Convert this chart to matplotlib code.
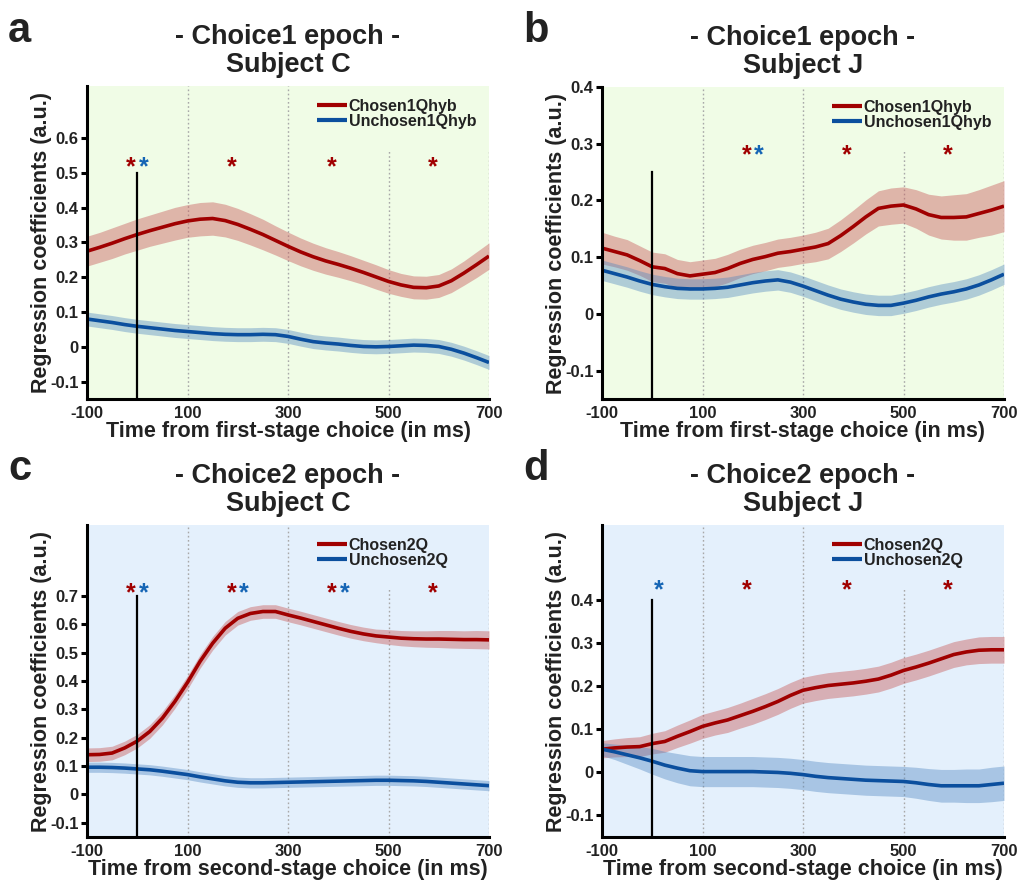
import numpy as np
import matplotlib
matplotlib.use("Agg")
import matplotlib.pyplot as plt

plt.rcParams["font.family"] = ["Liberation Sans", "DejaVu Sans"]
plt.rcParams["font.weight"] = "bold"

# time axis (ms)
t = np.arange(-100, 701, 25)

# ---- Choice1 epoch, subject C ----
a_chosen = [0.275, 0.286, 0.298, 0.311, 0.323, 0.334, 0.344, 0.354, 0.362, 0.367, 0.369,
            0.363, 0.352, 0.338, 0.323, 0.306, 0.289, 0.273, 0.259, 0.247, 0.237, 0.226,
            0.214, 0.201, 0.188, 0.178, 0.171, 0.170, 0.175, 0.190, 0.212, 0.236, 0.261]
a_chosen_se = [0.043, 0.043, 0.044, 0.044, 0.045, 0.045, 0.046, 0.047, 0.047, 0.048, 0.048,
               0.047, 0.046, 0.045, 0.044, 0.042, 0.041, 0.040, 0.039, 0.038, 0.037, 0.036,
               0.035, 0.035, 0.034, 0.033, 0.033, 0.033, 0.033, 0.034, 0.035, 0.037, 0.038]
a_unchosen = [0.080, 0.075, 0.070, 0.064, 0.059, 0.055, 0.051, 0.047, 0.044, 0.041, 0.038,
              0.036, 0.035, 0.035, 0.036, 0.035, 0.030, 0.022, 0.015, 0.011, 0.008, 0.004,
              0.001, 0.000, 0.001, 0.003, 0.005, 0.004, 0.001, -0.007, -0.018, -0.031, -0.045]
a_unchosen_se = [0.020] * 33

# ---- Choice1 epoch, subject J ----
b_chosen = [0.116, 0.110, 0.104, 0.094, 0.083, 0.080, 0.071, 0.067, 0.070, 0.073, 0.080,
            0.089, 0.096, 0.101, 0.107, 0.110, 0.114, 0.118, 0.124, 0.138, 0.154, 0.171,
            0.186, 0.190, 0.192, 0.185, 0.175, 0.170, 0.170, 0.171, 0.177, 0.183, 0.190]
b_chosen_se = [0.028, 0.027, 0.027, 0.026, 0.026, 0.026, 0.025, 0.025, 0.025, 0.025, 0.025,
               0.025, 0.025, 0.025, 0.025, 0.025, 0.025, 0.026, 0.027, 0.028, 0.029, 0.030,
               0.031, 0.032, 0.032, 0.034, 0.036, 0.038, 0.040, 0.041, 0.042, 0.044, 0.045]
b_unchosen = [0.077, 0.071, 0.065, 0.058, 0.052, 0.048, 0.045, 0.044, 0.044, 0.045, 0.047,
              0.051, 0.055, 0.058, 0.060, 0.056, 0.049, 0.041, 0.033, 0.026, 0.021, 0.017,
              0.015, 0.015, 0.019, 0.024, 0.030, 0.035, 0.039, 0.044, 0.051, 0.060, 0.070]
b_unchosen_se = [0.018] * 33

# ---- Choice2 epoch, subject C ----
c_chosen = [0.140, 0.141, 0.146, 0.164, 0.188, 0.222, 0.269, 0.328, 0.395, 0.469, 0.533,
            0.586, 0.621, 0.638, 0.645, 0.645, 0.633, 0.622, 0.610, 0.598, 0.586, 0.575,
            0.566, 0.559, 0.555, 0.551, 0.549, 0.548, 0.548, 0.547, 0.546, 0.546, 0.545]
c_chosen_se = [0.024] * 24 + [0.026, 0.027, 0.028, 0.029, 0.030, 0.031, 0.031, 0.032, 0.032]
c_unchosen = [0.096, 0.096, 0.095, 0.093, 0.090, 0.087, 0.082, 0.076, 0.070, 0.062, 0.055,
              0.048, 0.043, 0.041, 0.041, 0.042, 0.043, 0.044, 0.045, 0.046, 0.047, 0.048,
              0.049, 0.050, 0.050, 0.049, 0.048, 0.046, 0.043, 0.040, 0.037, 0.034, 0.031]
c_unchosen_se = [0.018] * 33

# ---- Choice2 epoch, subject J ----
d_chosen = [0.054, 0.057, 0.059, 0.060, 0.067, 0.072, 0.084, 0.095, 0.107, 0.115, 0.122,
            0.132, 0.142, 0.153, 0.165, 0.179, 0.191, 0.197, 0.202, 0.205, 0.208, 0.212,
            0.217, 0.226, 0.237, 0.245, 0.254, 0.264, 0.274, 0.280, 0.284, 0.285, 0.285]
d_chosen_se = [0.020, 0.021, 0.022, 0.023, 0.024, 0.025, 0.026, 0.027, 0.028, 0.028, 0.029,
               0.029, 0.030, 0.030, 0.030, 0.030, 0.030, 0.030, 0.030, 0.030, 0.030, 0.030,
               0.030, 0.030, 0.030, 0.030, 0.030, 0.030, 0.030, 0.030, 0.031, 0.031, 0.031]
d_unchosen = [0.054, 0.048, 0.041, 0.034, 0.026, 0.017, 0.010, 0.004, 0.002, 0.002, 0.002,
              0.002, 0.002, 0.001, 0.000, -0.002, -0.005, -0.009, -0.012, -0.014, -0.016, -0.018,
              -0.019, -0.020, -0.021, -0.024, -0.028, -0.031, -0.031, -0.031, -0.031, -0.028, -0.025]
d_unchosen_se = [0.015, 0.018, 0.022, 0.026, 0.030, 0.032, 0.034, 0.035, 0.035, 0.035, 0.035,
                 0.035, 0.035, 0.035, 0.035, 0.035, 0.035, 0.035, 0.035, 0.035, 0.035, 0.035,
                 0.035, 0.035, 0.035, 0.036, 0.037, 0.038, 0.038, 0.039, 0.039, 0.040, 0.040]

# significant 200-ms windows (window centres) for each regressor
a_sig_chosen, a_sig_unchosen = [0, 200, 400, 600], [0]
b_sig_chosen, b_sig_unchosen = [200, 400, 600], [200]
c_sig_chosen, c_sig_unchosen = [0, 200, 400, 600], [0, 200, 400]
d_sig_chosen, d_sig_unchosen = [200, 400, 600], [0]

panel_letters = ["a", "b", "c", "d"]
titles = ["- Choice1 epoch -\nSubject C", "- Choice1 epoch -\nSubject J",
          "- Choice2 epoch -\nSubject C", "- Choice2 epoch -\nSubject J"]
xlabels = ["Time from first-stage choice (in ms)"] * 2 + ["Time from second-stage choice (in ms)"] * 2
legend_labels = [("Chosen1Qhyb", "Unchosen1Qhyb")] * 2 + [("Chosen2Q", "Unchosen2Q")] * 2
xticks = [-100, 100, 300, 500, 700]
yticks = [[-0.1, 0, 0.1, 0.2, 0.3, 0.4, 0.5, 0.6],
          [-0.1, 0, 0.1, 0.2, 0.3, 0.4],
          [-0.1, 0, 0.1, 0.2, 0.3, 0.4, 0.5, 0.6, 0.7],
          [-0.1, 0, 0.1, 0.2, 0.3, 0.4]]
ylims = [(-0.15, 0.75), (-0.15, 0.40), (-0.15, 0.95), (-0.15, 0.575)]
onset_height = [0.5, 0.25, 0.7, 0.4]
star_level = [0.531, 0.289, 0.725, 0.435]

chosen = [a_chosen, b_chosen, c_chosen, d_chosen]
chosen_se = [a_chosen_se, b_chosen_se, c_chosen_se, d_chosen_se]
unchosen = [a_unchosen, b_unchosen, c_unchosen, d_unchosen]
unchosen_se = [a_unchosen_se, b_unchosen_se, c_unchosen_se, d_unchosen_se]
sig_chosen = [a_sig_chosen, b_sig_chosen, c_sig_chosen, d_sig_chosen]
sig_unchosen = [a_sig_unchosen, b_sig_unchosen, c_sig_unchosen, d_sig_unchosen]

RED = "#a00000"
RED_BAND = "#c96060"
BLUE = "#0b4f9e"
BLUE_BAND = "#4f86c0"
STAR_BLUE = "#1565b5"
BG = ["#f0fce6", "#f0fce6", "#e4f0fc", "#e4f0fc"]
TXT = "#222222"

W, H = 1019, 882
fig = plt.figure(figsize=(W / 100, H / 100), dpi=100)
boxes = [(87, 86, 489, 399), (602, 87, 1004, 399), (87, 525, 489, 837), (602, 525, 1004, 837)]
letter_pos = [(8, 42), (523, 42), (8, 480), (523, 480)]

for i in range(4):
    x0, y0, x1, y1 = boxes[i]
    ax = fig.add_axes([x0 / W, 1 - y1 / H, (x1 - x0) / W, (y1 - y0) / H])
    ax.set_facecolor(BG[i])
    ax.set_xlim(-100, 700)
    ax.set_ylim(*ylims[i])

    # dotted time grid (the upper part of the late lines sits under the legend)
    for xv in [100, 300, 500, 700]:
        ax.axvline(xv, ymax=1.0 if xv < 400 else 0.80, color="#a8a8a8",
                   lw=1.0, ls=(0, (1.2, 1.8)), zorder=1)

    m1, s1 = np.array(chosen[i]), np.array(chosen_se[i])
    m2, s2 = np.array(unchosen[i]), np.array(unchosen_se[i])
    ax.fill_between(t, m1 - s1, m1 + s1, color=RED_BAND, alpha=0.45, lw=0, zorder=2)
    ax.fill_between(t, m2 - s2, m2 + s2, color=BLUE_BAND, alpha=0.40, lw=0, zorder=2)
    l1, = ax.plot(t, m1, color=RED, lw=2.6, zorder=3, solid_capstyle="butt")
    l2, = ax.plot(t, m2, color=BLUE, lw=2.6, zorder=3, solid_capstyle="butt")

    # choice onset marker
    ax.plot([0, 0], [ylims[i][0], onset_height[i]], color="black", lw=1.6, zorder=4)

    # significance asterisks
    for c in sig_chosen[i]:
        ax.annotate("*", (c - 12, star_level[i]), xytext=(0, -3.5), textcoords="offset points",
                    color=RED, fontsize=18, ha="center", va="center", zorder=5)
    for c in sig_unchosen[i]:
        ax.annotate("*", (c + 12, star_level[i]), xytext=(0, -3.5), textcoords="offset points",
                    color=STAR_BLUE, fontsize=18, ha="center", va="center", zorder=5)

    for side in ["top", "right"]:
        ax.spines[side].set_visible(False)
    for side in ["left", "bottom"]:
        ax.spines[side].set_linewidth(2.2)
        ax.spines[side].set_zorder(6)
    ax.set_xticks(xticks)
    ax.set_xticklabels([str(v) for v in xticks])
    ax.set_yticks(yticks[i])
    ax.set_yticklabels(["0" if v == 0 else f"{v:g}" for v in yticks[i]])
    ax.tick_params(axis="both", direction="out", length=4, width=2.2, labelsize=12,
                   colors="black", labelcolor=TXT, pad=2)
    ax.tick_params(axis="x", length=0, pad=5)
    for lab in ax.get_xticklabels() + ax.get_yticklabels():
        lab.set_fontweight("bold")

    ax.set_xlabel(xlabels[i], fontsize=15.5, fontweight="bold", color=TXT, labelpad=0)
    ax.set_ylabel("Regression coefficients (a.u.)", fontsize=15.5, fontweight="bold",
                  color=TXT, labelpad=-1)
    ax.set_title(titles[i], fontsize=19.5, fontweight="bold", color=TXT, pad=10,
                 linespacing=1.12)

    leg = ax.legend([l1, l2], list(legend_labels[i]), loc="upper left",
                    bbox_to_anchor=(0.552, 0.985), frameon=False, borderpad=0,
                    handlelength=1.9, handletextpad=0.1, labelspacing=0.0,
                    prop={"size": 11.5, "weight": "bold"})
    for txt in leg.get_texts():
        txt.set_color(TXT)
    for ln in leg.get_lines():
        ln.set_linewidth(3)

    lx, ly = letter_pos[i]
    fig.text(lx / W, 1 - ly / H, panel_letters[i], fontsize=30, fontweight="bold",
             color=TXT, ha="left", va="baseline")

fig.savefig("out.png", dpi=100)
